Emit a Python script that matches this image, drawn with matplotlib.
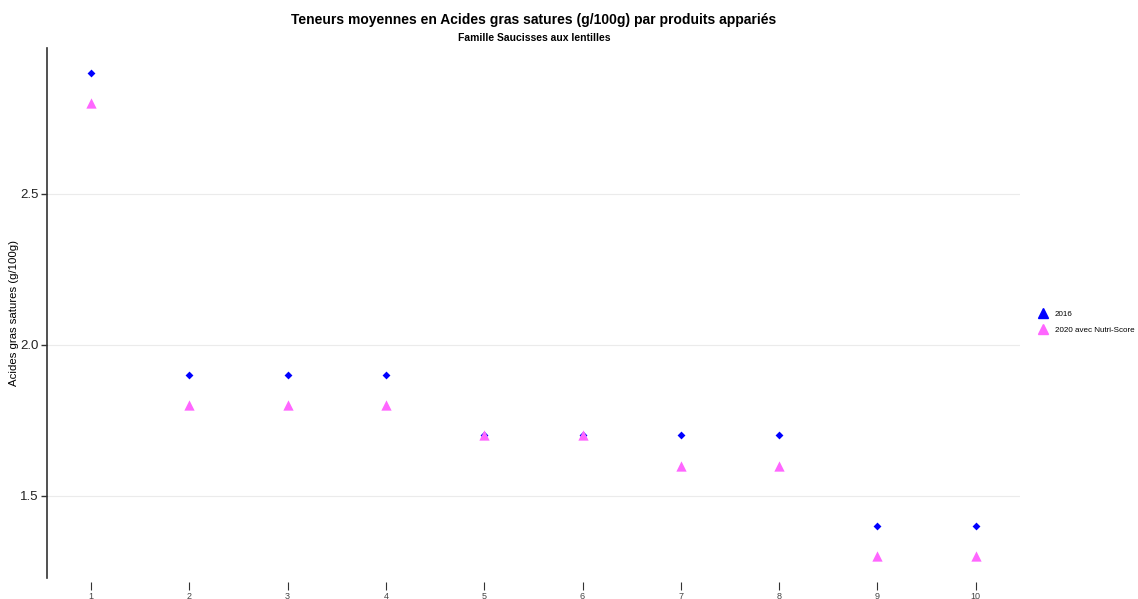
import matplotlib
matplotlib.use("Agg")
import matplotlib.pyplot as plt
from matplotlib.lines import Line2D

plt.rcParams['font.family'] = ['Liberation Sans', 'DejaVu Sans']

produits = [1, 2, 3, 4, 5, 6, 7, 8, 9, 10]
val_2016 = [2.9, 1.9, 1.9, 1.9, 1.7, 1.7, 1.7, 1.7, 1.4, 1.4]
val_2020 = [2.8, 1.8, 1.8, 1.8, 1.7, 1.7, 1.6, 1.6, 1.3, 1.3]
yticks = [1.5, 2.0, 2.5]
ytick_labels = ["1.5", "2.0", "2.5"]
series_labels = ["2016", "2020 avec Nutri-Score"]

c2016 = "#0000FF"
c2020 = "#FF66FF"

fig = plt.figure(figsize=(11.38, 5.99), dpi=100)
ax = fig.add_axes([47/1138, 21/599, (1020-47)/1138, (578-48)/599])

ax.scatter(produits, val_2016, marker="D", s=16, color=c2016, zorder=3, linewidths=0)
ax.scatter(produits, val_2020, marker="^", s=55, color=c2020, zorder=4, linewidths=0)

for s in ["top", "right", "bottom"]:
    ax.spines[s].set_visible(False)
ax.spines["left"].set_color("#333333")
ax.spines["left"].set_linewidth(1.2)
ax.spines["bottom"].set_position(("outward", 3))

ax.set_xlim(0.552, 10.45)
ax.set_ylim(1.228, 2.983)
ax.set_yticks(yticks)
ax.set_yticklabels(ytick_labels)
ax.set_xticks(produits)
ax.set_xticklabels([str(p) for p in produits])
ax.grid(axis="y", color="#ebebeb", linewidth=0.8)
ax.set_axisbelow(True)

ax.tick_params(axis="y", length=4, width=1, color="#333333", pad=2,
               labelsize=9.5, labelcolor="#222222")
ax.tick_params(axis="x", length=6, width=0.8, color="#333333", pad=1,
               labelsize=6.5, labelcolor="#444444")

ax.set_ylabel("Acides gras satures (g/100g)", fontsize=8.2)
ax.yaxis.set_label_coords(-28/973, 0.5)

fig.text(534/1138, 1 - 20/599, "Teneurs moyennes en Acides gras satures (g/100g) par produits appariés",
         ha="center", va="center", fontsize=10, fontweight="bold")
fig.text(534/1138, 1 - 38/599, "Famille Saucisses aux lentilles",
         ha="center", va="center", fontsize=7.5, fontweight="bold")

handles = [Line2D([], [], marker="^", linestyle="", color=c2016, markersize=7),
           Line2D([], [], marker="^", linestyle="", color=c2020, markersize=7)]
fig.legend(handles, series_labels, loc="center left", bbox_to_anchor=(1033/1138, 1 - 322/599),
           frameon=False, fontsize=5.8, handletextpad=0.5, labelspacing=1.0,
           borderaxespad=0, borderpad=0.2)

fig.savefig("out.png", dpi=100, facecolor="white")
